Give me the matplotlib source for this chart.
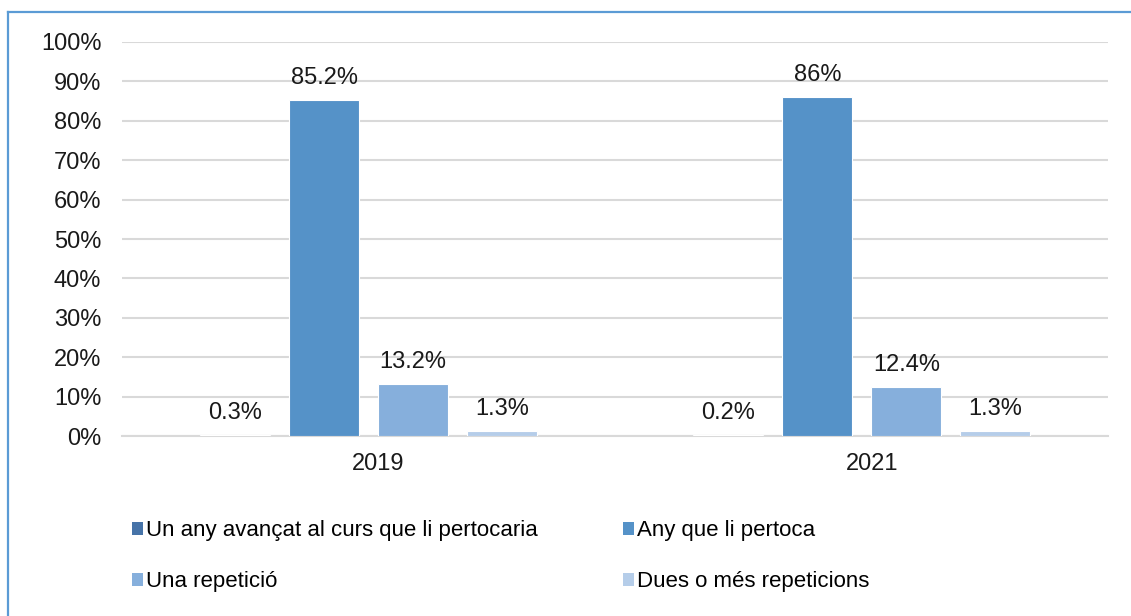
import numpy as np
import matplotlib
matplotlib.use("Agg")
import matplotlib.pyplot as plt
from matplotlib.lines import Line2D
from matplotlib.patches import Patch

plt.rcParams['font.family'] = ['Liberation Sans', 'DejaVu Sans']

years = ["2019", "2021"]
series_names = [
    "Un any avançat al curs que li pertocaria",
    "Any que li pertoca",
    "Una repetició",
    "Dues o més repeticions",
]
avancat = [0.3, 0.2]
pertoca = [85.2, 86.0]
una_rep = [13.2, 12.4]
dues_rep = [1.3, 1.3]
labels = [["0.3%", "0.2%"], ["85.2%", "86%"], ["13.2%", "12.4%"], ["1.3%", "1.3%"]]

colors = ["#4673a8", "#5592c8", "#86afdc", "#b5cde9"]

fig = plt.figure(figsize=(11.31, 6.16), dpi=100)
ax = fig.add_axes([0.108, 0.292, 0.872, 0.640])

x = np.arange(len(years))
step = 0.1805
width = 0.142
data = [avancat, pertoca, una_rep, dues_rep]
for i, vals in enumerate(data):
    pos = x + (i - 1.5) * step
    bars = ax.bar(pos, vals, width=width, color=colors[i],
                  edgecolor="white", linewidth=0.8, zorder=3)
    for b, lab in zip(bars, labels[i]):
        ax.annotate(lab, (b.get_x() + b.get_width() / 2, b.get_height()),
                    xytext=(0, 8), textcoords="offset points",
                    ha="center", va="bottom", fontsize=17, color="#1a1a1a")

ax.set_xlim(-0.5, 1.5)
ax.set_ylim(0, 100)
ax.set_yticks(np.arange(0, 101, 10))
ax.set_yticklabels([f"{v}%" for v in range(0, 101, 10)])
ax.set_xticks(x + 0.02)
ax.set_xticklabels(years)
ax.tick_params(axis="both", length=0, labelsize=17, colors="#1a1a1a")
ax.tick_params(axis="y", pad=15)
ax.tick_params(axis="x", pad=12)
ax.grid(axis="y", color="#d9d9d9", linewidth=1.5, zorder=0)
for s in ["top", "right", "left"]:
    ax.spines[s].set_visible(False)
ax.spines["bottom"].set_color("#d9d9d9")
ax.spines["bottom"].set_linewidth(1.5)

# row-major order: matplotlib fills legend columns first
order = [0, 2, 1, 3]
handles = [Patch(facecolor=colors[k], edgecolor="none") for k in order]
fig.legend(handles, [series_names[k] for k in order], loc="upper left",
           bbox_to_anchor=(0.099, 0.188), ncol=2,
           frameon=False, fontsize=16, handlelength=0.5, handleheight=0.5,
           handletextpad=0.15, columnspacing=3.8, labelspacing=1.35)

# outer frame (left and top edges visible)
fig.add_artist(Line2D([8 / 1131, 8 / 1131], [0, 1 - 12 / 616],
                      color="#5b9bd5", linewidth=1.6, transform=fig.transFigure))
fig.add_artist(Line2D([8 / 1131, 1], [1 - 12 / 616, 1 - 12 / 616],
                      color="#5b9bd5", linewidth=1.6, transform=fig.transFigure))

fig.savefig("out.png", dpi=100)
